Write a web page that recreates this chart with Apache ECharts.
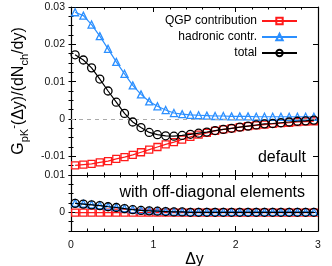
<!DOCTYPE html>
<html><head><meta charset="utf-8">
<script src="https://cdn.jsdelivr.net/npm/echarts@6/dist/echarts.min.js"></script>
<style>html,body{margin:0;padding:0;background:#fff}#c{width:332px;height:266px}</style>
</head><body><div id="c"></div>
<script>
const xs = [0.05,0.15,0.25,0.35,0.45,0.55,0.65,0.75,0.85,0.95,1.05,1.15,1.25,1.35,1.45,1.55,1.65,1.75,1.85,1.95,2.05,2.15,2.25,2.35,2.45,2.55,2.65,2.75,2.85,2.95];
const qgp = [-0.0124,-0.0122,-0.0120,-0.0116,-0.0113,-0.0107,-0.0102,-0.0096,-0.0089,-0.0082,-0.0075,-0.0068,-0.0062,-0.0055,-0.0048,-0.0042,-0.0037,-0.0032,-0.0028,-0.0025,-0.0022,-0.0019,-0.0017,-0.0015,-0.0013,-0.0011,-0.0010,-0.0008,-0.0007,-0.0006];
const hadronic = [0.0286,0.0277,0.0253,0.0222,0.0188,0.0153,0.0121,0.0090,0.0066,0.0047,0.0034,0.0024,0.0016,0.0013,0.0011,0.0010,0.0009,0.0008,0.0008,0.0007,0.0007,0.0007,0.0006,0.0006,0.0006,0.0006,0.0006,0.0006,0.0006,0.0006];
const total = [0.0172,0.0158,0.0137,0.0107,0.0075,0.0045,0.0015,-0.0008,-0.0023,-0.0036,-0.0042,-0.0045,-0.0046,-0.0044,-0.0041,-0.0038,-0.0035,-0.0031,-0.0028,-0.0025,-0.0022,-0.0019,-0.0016,-0.0013,-0.0012,-0.0010,-0.0008,-0.0006,-0.0005,-0.0003];
const qgpOff = [-0.0001,-0.0001,-0.0001,-0.0001,-0.0001,-0.0001,-0.0001,-0.0001,-0.0001,-0.0001,-0.0001,-0.0001,-0.0001,-0.0001,-0.0001,-0.0001,-0.0001,-0.0001,-0.0001,-0.0001,-0.0001,-0.0001,-0.0001,-0.0001,-0.0001,-0.0001,-0.0001,-0.0001,-0.0001,-0.0001];
const hadronicOff = [0.0025,0.0023,0.0021,0.0019,0.0016,0.0014,0.0011,0.0008,0.0006,0.0005,0.0004,0.0003,0.0002,0.0002,0.0001,0.0001,0.0001,0.0001,0.0001,0.0001,0.0001,0.0001,0.0001,0.0001,0.0001,0.0001,0.0001,0.0001,0.0001,0.0001];
const totalOff = [0.0024,0.0022,0.0020,0.0018,0.0015,0.0013,0.0010,0.0007,0.0005,0.0004,0.0003,0.0002,0.0001,0.0001,0.0000,0.0000,0.0000,0.0000,0.0000,0.0000,0.0000,0.0000,0.0000,0.0000,0.0000,0.0000,0.0000,0.0000,0.0000,0.0000];
const topYLabels = [-0.01, 0, 0.01, 0.02, 0.03];
const bottomYLabels = [0, 0.01];
const seriesNames = ['QGP contribution', 'hadronic contr.', 'total'];
const panelTexts = ['default', 'with off-diagonal elements'];

const FF = 'Liberation Sans, Arial, sans-serif';
const RED = '#ff1a1a', BLUE = '#2b8fff', BLK = '#000';
const pairs = ys => xs.map((x, i) => [x, ys[i]]);

function xAx(grid, pos, labels) {
  return {
    type: 'value', gridIndex: grid, position: pos, min: 0, max: 3, interval: 1,
    axisLine: {show: true, onZero: false, lineStyle: {color: BLK, width: 1.2}},
    axisTick: {show: true, inside: true, length: 5, lineStyle: {color: BLK}},
    minorTick: {show: true, splitNumber: 5, length: 2.5, lineStyle: {color: BLK}},
    splitLine: {show: false},
    axisLabel: {show: labels, margin: 9, fontSize: 10.5, fontFamily: FF, color: '#111'},
    name: labels ? 'Δy' : '', nameLocation: 'middle', nameGap: 20,
    nameTextStyle: {fontSize: 16, fontFamily: FF, color: BLK}
  };
}
function yMajor(grid, pos, min, max, vals, labels, name) {
  const a = {
    type: 'value', gridIndex: grid, position: pos, min: min, max: max,
    axisLine: {show: true, onZero: false, lineStyle: {color: BLK, width: 1.2}},
    axisTick: {show: true, inside: true, length: 5, customValues: vals, lineStyle: {color: BLK}},
    splitLine: {show: false},
    axisLabel: {show: labels, customValues: vals, margin: 6, fontSize: 10.5, fontFamily: FF, color: '#111',
      formatter: v => (Math.abs(v) < 1e-12 ? '0' : String(+v.toFixed(3)))}
  };
  if (name) {
    a.name = '{n|G}{s|pK}{p|-}{n|(Δy)/(dN}{s|ch}{n|/dy)}';
    a.nameLocation = 'middle'; a.nameGap = 41; a.nameRotate = 90;
    a.nameTextStyle = {fontSize: 16, fontFamily: FF, color: BLK, rich: {
      n: {fontSize: 16, fontFamily: FF, color: BLK, lineHeight: 22},
      s: {fontSize: 11, fontFamily: FF, color: BLK, lineHeight: 12, verticalAlign: 'bottom'},
      p: {fontSize: 11, fontFamily: FF, color: BLK, lineHeight: 12, verticalAlign: 'top'}
    }};
  }
  return a;
}
function yMinor(grid, pos, min, max) {
  return {
    type: 'value', gridIndex: grid, position: pos, min: min, max: max, interval: 0.0025,
    axisLine: {show: false},
    axisTick: {show: true, inside: true, length: 2.5, lineStyle: {color: BLK}},
    splitLine: {show: false}, axisLabel: {show: false}
  };
}
function ser(name, data, xi, yi, color, symbol, size, z) {
  return {
    name: name, type: 'line', xAxisIndex: xi, yAxisIndex: yi, data: pairs(data),
    symbol: symbol, symbolSize: size, showAllSymbol: true, z: z,
    lineStyle: {color: color, width: 1.2},
    itemStyle: {color: 'rgba(255,255,255,0)', borderColor: color, borderWidth: 1.3},
    emphasis: {disabled: true}, animation: false
  };
}

const chart = echarts.init(document.getElementById('c'), null, {renderer: 'canvas'});
const top0 = 7, hTop = 168, hBot = 56;
chart.setOption({
  animation: false,
  grid: [
    {left: 71, top: top0, width: 247, height: hTop, outerBoundsMode: 'none'},
    {left: 71, top: top0 + hTop, width: 247, height: hBot, outerBoundsMode: 'none'}
  ],
  xAxis: [xAx(0, 'bottom', false), xAx(0, 'top', false), xAx(1, 'bottom', true), xAx(1, 'top', false)],
  yAxis: [
    yMajor(0, 'left', -0.015, 0.03, topYLabels, true, true),
    yMinor(0, 'left', -0.015, 0.03),
    yMajor(0, 'right', -0.015, 0.03, topYLabels, false, false),
    yMinor(0, 'right', -0.015, 0.03),
    yMajor(1, 'left', -0.005, 0.01, bottomYLabels, true, false),
    yMinor(1, 'left', -0.005, 0.01),
    yMajor(1, 'right', -0.005, 0.01, bottomYLabels, false, false),
    yMinor(1, 'right', -0.005, 0.01)
  ],
  legend: {
    data: seriesNames, orient: 'vertical', right: 29, top: 10, align: 'right',
    itemWidth: 35, itemHeight: 8, itemGap: 4, selectedMode: false,
    textStyle: {fontSize: 12, fontFamily: FF, color: BLK, lineHeight: 12}
  },
  graphic: [
    {type: 'text', x: 306, y: 158, style: {text: panelTexts[0], font: '16px ' + FF, fill: BLK, align: 'right', verticalAlign: 'middle'}},
    {type: 'text', x: 305, y: 193, style: {text: panelTexts[1], font: '16px ' + FF, fill: BLK, align: 'right', verticalAlign: 'middle'}}
  ],
  series: [
    {type: 'line', xAxisIndex: 0, yAxisIndex: 0, data: [], z: 1, silent: true,
      markLine: {silent: true, symbol: 'none', label: {show: false},
        lineStyle: {color: '#aaa', type: [4, 4], width: 1}, data: [{yAxis: 0}]}},
    ser(seriesNames[0], qgp, 0, 0, RED, 'rect', 7, 3),
    ser(seriesNames[1], hadronic, 0, 0, BLUE, 'triangle', 7, 4),
    ser(seriesNames[2], total, 0, 0, BLK, 'circle', 8, 5),
    ser('qgp off', qgpOff, 2, 4, RED, 'rect', 7, 3),
    ser('had off', hadronicOff, 2, 4, BLUE, 'triangle', 7, 4),
    ser('tot off', totalOff, 2, 4, BLK, 'circle', 8, 5)
  ]
});
</script></body></html>
